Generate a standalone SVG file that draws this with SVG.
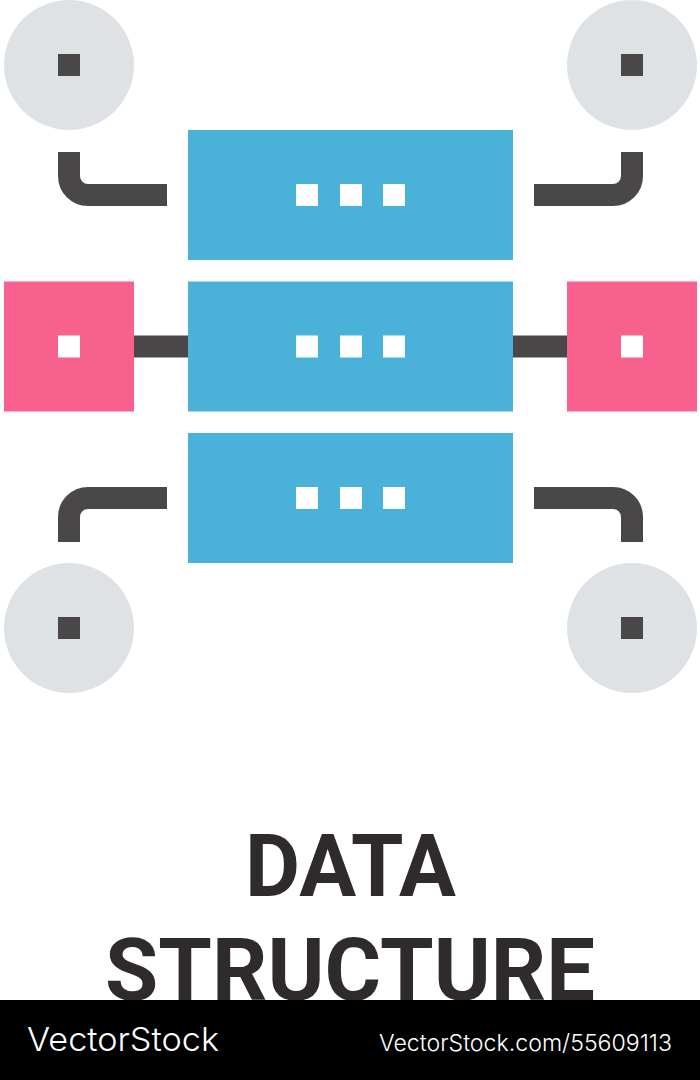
<svg xmlns="http://www.w3.org/2000/svg" width="700" height="1080" viewBox="0 0 700 1080">
<style>
.srv{fill:#4ab1d9}.pink{fill:#f8608d}.gray{fill:#dfe2e5}.w{fill:#fff}.d{fill:#4a4748}
.c{fill:none;stroke:#4a4748;stroke-width:22}
.t{font-family:Roboto,"Liberation Sans",sans-serif;font-weight:700;font-size:87px;fill:#2f2b2c}
.f{font-family:Inter,"Liberation Sans",sans-serif;font-weight:300;fill:#fff}
</style>
<rect width="700" height="1080" fill="#fff"/>
<g id="connectors">
<path class="c" d="M69 152V176A19 19 0 0 0 88 195H167"/>
<path class="c" d="M632 152V176A19 19 0 0 1 613 195H534"/>
<path class="c" d="M134 346.5H188"/>
<path class="c" d="M513 346.5H567"/>
<path class="c" d="M69 542V517A19 19 0 0 1 88 498H167"/>
<path class="c" d="M632 542V517A19 19 0 0 0 613 498H534"/>
</g>
<g id="server-top"><rect class="srv" x="188" y="130" width="325" height="130"/><rect class="w" x="296" y="184" width="22" height="22"/><rect class="w" x="340" y="184" width="22" height="22"/><rect class="w" x="383" y="184" width="22" height="22"/></g>
<g id="server-middle"><rect class="srv" x="188" y="281.500" width="325" height="130"/><rect class="w" x="296" y="335.500" width="22" height="22"/><rect class="w" x="340" y="335.500" width="22" height="22"/><rect class="w" x="383" y="335.500" width="22" height="22"/></g>
<g id="server-bottom"><rect class="srv" x="188" y="433" width="325" height="130"/><rect class="w" x="296" y="487" width="22" height="22"/><rect class="w" x="340" y="487" width="22" height="22"/><rect class="w" x="383" y="487" width="22" height="22"/></g>
<g id="node-left"><rect class="pink" x="4" y="281.500" width="130" height="130"/><rect class="w" x="58" y="335.500" width="22" height="22"/></g>
<g id="node-right"><rect class="pink" x="567" y="281.500" width="130" height="130"/><rect class="w" x="621" y="335.500" width="22" height="22"/></g>
<g id="circle-top-left"><circle class="gray" cx="69" cy="65" r="65"/><rect class="d" x="58" y="54" width="22" height="22"/></g>
<g id="circle-top-right"><circle class="gray" cx="632" cy="65" r="65"/><rect class="d" x="621" y="54" width="22" height="22"/></g>
<g id="circle-bottom-left"><circle class="gray" cx="69" cy="628" r="65"/><rect class="d" x="58" y="617" width="22" height="22"/></g>
<g id="circle-bottom-right"><circle class="gray" cx="632" cy="628" r="65"/><rect class="d" x="621" y="617" width="22" height="22"/></g>
<text class="t" x="245" y="896" textLength="211" lengthAdjust="spacingAndGlyphs">DATA</text>
<text class="t" x="105" y="1000" textLength="490" lengthAdjust="spacingAndGlyphs">STRUCTURE</text>
<rect id="footer" y="1000" width="700" height="80" fill="#000"/>
<text class="f" x="27" y="1051" font-size="33" textLength="192" lengthAdjust="spacingAndGlyphs">VectorStock</text>
<text class="f" x="379" y="1051" font-size="23" textLength="293" lengthAdjust="spacingAndGlyphs">VectorStock.com/55609113</text>
</svg>
